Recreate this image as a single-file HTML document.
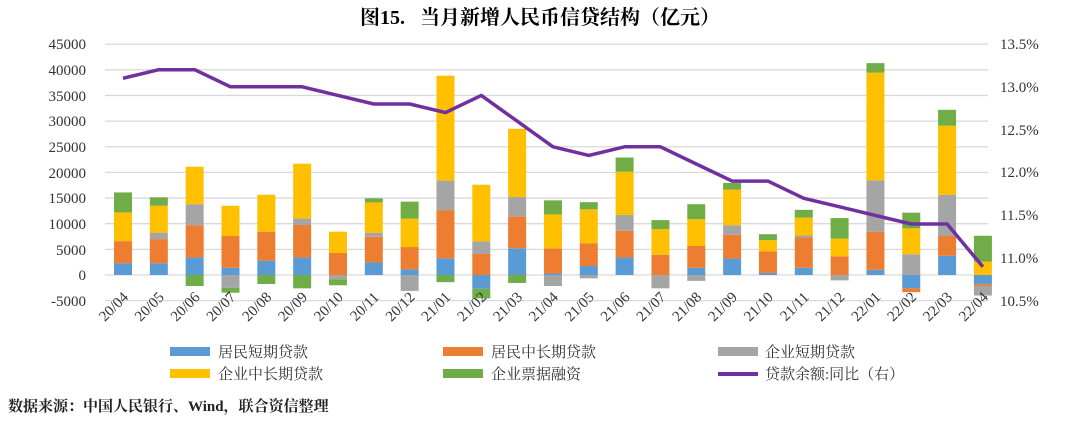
<!DOCTYPE html>
<html><head><meta charset="utf-8"><style>
html,body{margin:0;padding:0;background:#fff;width:1080px;height:423px;overflow:hidden}
svg text{font-family:"Liberation Serif","Noto Serif CJK SC",serif}
</style></head><body>
<svg id="s" width="1080" height="423" xmlns="http://www.w3.org/2000/svg">
<text x="540" y="24" text-anchor="middle" font-size="20" font-weight="bold" xml:space="preserve" font-family="Liberation Serif, Noto Serif CJK SC, serif">图15.   当月新增人民币信贷结构（亿元）</text>
<g id="grid" stroke="#d9d9d9" stroke-width="1.3"></g>
<g id="bars"></g>
<g font-size="15" fill="#333" text-anchor="end">
<text x="86" y="49">45000</text><text x="86" y="75">40000</text><text x="86" y="101">35000</text><text x="86" y="126">30000</text><text x="86" y="152">25000</text><text x="86" y="178">20000</text><text x="86" y="203">15000</text><text x="86" y="229">10000</text><text x="86" y="255">5000</text><text x="86" y="280">0</text><text x="86" y="306">-5000</text>
</g>
<g font-size="15" fill="#333">
<text x="1000" y="49">13.5%</text><text x="1000" y="92">13.0%</text><text x="1000" y="135">12.5%</text><text x="1000" y="177">12.0%</text><text x="1000" y="220">11.5%</text><text x="1000" y="263">11.0%</text><text x="1000" y="306">10.5%</text>
</g>
<g id="xl" font-size="15" fill="#333" text-anchor="end"></g>
<g font-size="15" fill="#333" font-family="Liberation Serif, Noto Serif CJK SC, serif">
<rect x="170" y="347" width="40" height="9" fill="#5b9bd5"/><text x="218" y="357">居民短期贷款</text>
<rect x="443" y="347" width="40" height="9" fill="#ed7d31"/><text x="491" y="357">居民中长期贷款</text>
<rect x="718" y="347" width="40" height="9" fill="#a5a5a5"/><text x="765" y="357">企业短期贷款</text>
<rect x="170" y="369" width="40" height="9" fill="#ffc000"/><text x="218" y="379">企业中长期贷款</text>
<rect x="443" y="369" width="40" height="9" fill="#70ad47"/><text x="491" y="379">企业票据融资</text>
<line x1="718" y1="374" x2="758" y2="374" stroke="#7030a0" stroke-width="4"/><text x="765" y="379">贷款余额:同比（右）</text>
</g>
<text x="8" y="411" font-size="15" font-weight="bold" fill="#222" font-family="Liberation Serif, Noto Serif CJK SC, serif">数据来源：中国人民银行、Wind，联合资信整理</text>
</svg>
<script>
var NS="http://www.w3.org/2000/svg";
function el(p,t,a){var e=document.createElementNS(NS,t);for(var k in a)e.setAttribute(k,a[k]);p.appendChild(e);return e;}
var zero=275,sc=5.13/1000;
var g=document.getElementById('grid');
for(var v=-5000;v<=45000;v+=5000){var y=zero-v*sc;el(g,'line',{x1:105,x2:988,y1:y,y2:y});}
var d=[[2300,4300,0,5600,3900],[2300,4700,1250,5250,1650],[3400,6300,4100,7300,-2150],[1400,6200,-2500,5900,-950],[2800,5650,0,7200,-1750],[3400,6350,1250,10700,-2600],[0,4300,-850,4150,-1150],[2450,5000,800,5900,800],[1100,4350,-3100,5550,3300],[3250,9400,5750,20450,-1400],[-2700,4100,2450,11050,-1850],[5200,6250,3750,13300,-1550],[300,4900,-2150,6600,2750],[1750,4450,-650,6600,1400],[3400,5200,3100,8450,2750],[0,3950,-2600,5000,1750],[1400,4250,-1150,5250,2900],[3200,4650,1850,6950,1300],[400,4200,0,2200,1150],[1400,5900,400,3500,1500],[0,3650,-1050,3450,4000],[1000,7450,10000,21000,1850],[-2600,-750,4050,5050,3050],[3750,3850,8050,13450,3100],[-1800,-350,-1850,2600,5050]];
var col=['#5b9bd5','#ed7d31','#a5a5a5','#ffc000','#70ad47'];
var lab=['20/04','20/05','20/06','20/07','20/08','20/09','20/10','20/11','20/12','21/01','21/02','21/03','21/04','21/05','21/06','21/07','21/08','21/09','21/10','21/11','21/12','22/01','22/02','22/03','22/04'];
var yo=[13.1,13.2,13.2,13.0,13.0,13.0,12.9,12.8,12.8,12.7,12.9,12.6,12.3,12.2,12.3,12.3,12.1,11.9,11.9,11.7,11.6,11.5,11.4,11.4,10.9];
var b=document.getElementById('bars'),xl=document.getElementById('xl');
var pts=[];
for(var i=0;i<25;i++){var cx=123+i*35.83,p=0,n=0;
for(var j=0;j<5;j++){var v=d[i][j];if(v>0){el(b,'rect',{x:cx-9,y:zero-(p+v)*sc,width:18,height:v*sc,fill:col[j]});p+=v;}else if(v<0){el(b,'rect',{x:cx-9,y:zero-n*sc,width:18,height:-v*sc,fill:col[j]});n+=v;}}
var t=el(xl,'text',{x:0,y:0,transform:'translate('+(cx+6)+',298) rotate(-45)'});t.textContent=lab[i];
pts.push(cx.toFixed(1)+','+(44+(13.5-yo[i])*85.7).toFixed(1));}
el(b,'polyline',{points:pts.join(' '),fill:'none',stroke:'#7030a0','stroke-width':3.5,'stroke-linejoin':'round'});
</script>
</body></html>
